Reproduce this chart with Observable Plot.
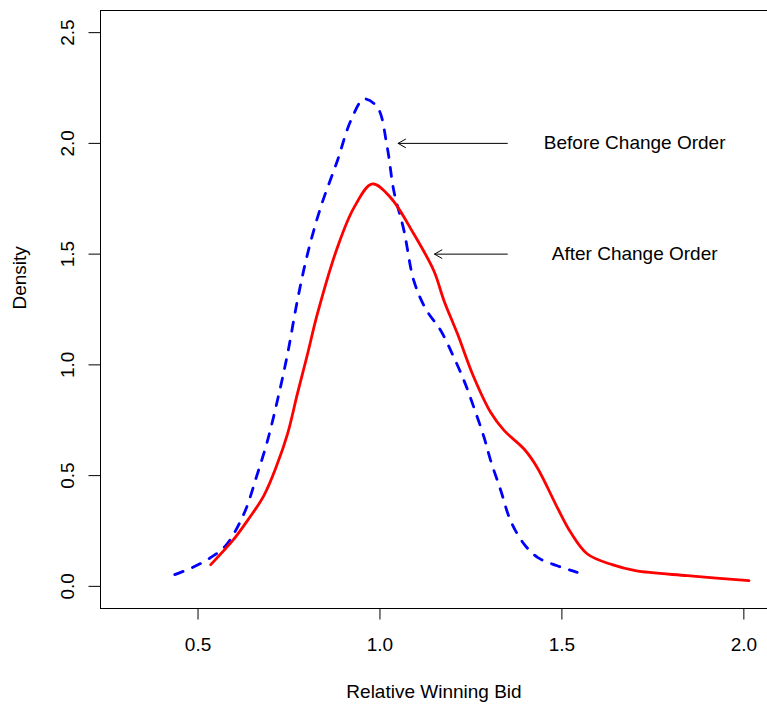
<!DOCTYPE html>
<html>
<head>
<meta charset="utf-8">
<script src="https://cdn.jsdelivr.net/npm/d3@7"></script>
<script src="https://cdn.jsdelivr.net/npm/@observablehq/plot@0.6"></script>
<style>
  html, body { margin: 0; padding: 0; background: #fff; }
  #chart { width: 767px; height: 707px; }
</style>
</head>
<body>
<div id="chart"></div>
<script>
// Density estimate "Before Change Order" (blue dashed)
const beforeX = [0.436, 0.486, 0.533, 0.576, 0.626, 0.663, 0.691, 0.718, 0.746, 0.773, 0.801, 0.837, 0.883, 0.920, 0.956, 0.993, 1.020, 1.038, 1.066, 1.093, 1.126, 1.167, 1.203, 1.231, 1.258, 1.286, 1.304, 1.332, 1.359, 1.396, 1.433, 1.487, 1.542];
const beforeY = [0.053, 0.086, 0.128, 0.184, 0.327, 0.507, 0.658, 0.838, 1.049, 1.290, 1.501, 1.711, 1.922, 2.103, 2.200, 2.163, 1.982, 1.786, 1.606, 1.380, 1.252, 1.155, 1.034, 0.929, 0.808, 0.673, 0.569, 0.433, 0.296, 0.191, 0.131, 0.093, 0.063];

// Density estimate "After Change Order" (red solid)
const afterX = [0.535, 0.595, 0.626, 0.681, 0.718, 0.746, 0.773, 0.801, 0.828, 0.883, 0.929, 0.979, 1.029, 1.093, 1.148, 1.176, 1.213, 1.258, 1.304, 1.341, 1.396, 1.432, 1.487, 1.524, 1.570, 1.638, 1.702, 1.845, 2.014];
const afterY = [0.098, 0.206, 0.274, 0.410, 0.553, 0.688, 0.869, 1.049, 1.230, 1.530, 1.711, 1.817, 1.756, 1.591, 1.425, 1.290, 1.140, 0.944, 0.786, 0.704, 0.620, 0.537, 0.357, 0.244, 0.146, 0.098, 0.071, 0.048, 0.026];

// Axes
const xDomain = [0.232, 2.065];
const yDomain = [-0.1, 2.6];
const xTicks = [0.5, 1.0, 1.5, 2.0];
const yTicks = [0.0, 0.5, 1.0, 1.5, 2.0, 2.5];
const xLabel = "Relative Winning Bid";
const yLabel = "Density";

// Annotations
const annText = ["Before Change Order", "After Change Order"];
const annTextX = [1.70, 1.70];
const annY = [2.0, 1.5];
const arrowFromX = [1.35, 1.35];
const arrowToX = [1.05, 1.15];

const before = beforeX.map((x, i) => ({x, y: beforeY[i]}));
const after = afterX.map((x, i) => ({x, y: afterY[i]}));
const annotations = annText.map((t, i) => ({text: t, tx: annTextX[i], y: annY[i], x1: arrowFromX[i], x2: arrowToX[i]}));

const FONT = "'Liberation Sans', Arial, Helvetica, sans-serif";
const FS = 19;

const chart = Plot.plot({
  width: 767,
  height: 707,
  marginLeft: 100,
  marginRight: 0,
  marginTop: 10,
  marginBottom: 99,
  style: {fontFamily: FONT, fontSize: FS + "px", background: "#fff", color: "#000"},
  x: {domain: xDomain, axis: null},
  y: {domain: yDomain, axis: null},
  marks: [
    // box (right side lies at the picture edge)
    Plot.ruleY(yDomain, {stroke: "#000", strokeWidth: 1}),
    Plot.ruleX([xDomain[0]], {stroke: "#000", strokeWidth: 1}),
    // axes
    Plot.axisX({ticks: xTicks, tickSize: 11.5, tickPadding: 17, tickFormat: d3.format(".1f"), fontSize: FS, label: null, stroke: "#000"}),
    Plot.axisY({ticks: yTicks, tickSize: 11.5, tickPadding: 15, tickRotate: -90, tickFormat: d3.format(".1f"), fontSize: FS, label: null, stroke: "#000"}),
    Plot.text([xLabel], {frameAnchor: "bottom", text: d => d, dy: 89, lineAnchor: "bottom", fontSize: FS, fill: "#000"}),
    Plot.text([yLabel], {frameAnchor: "left", text: d => d, rotate: -90, dx: -75, lineAnchor: "bottom", fontSize: FS, fill: "#000"}),
    // curves
    Plot.line(before, {x: "x", y: "y", stroke: "#0000ff", strokeWidth: 2.8, strokeDasharray: "9,10", curve: "catmull-rom"}),
    Plot.line(after, {x: "x", y: "y", stroke: "#ff0000", strokeWidth: 2.8, curve: "catmull-rom"}),
    // annotation arrows and text
    Plot.arrow(annotations, {x1: "x1", y1: "y", x2: "x2", y2: "y", stroke: "#000", strokeWidth: 1, headLength: 12.7, headAngle: 60}),
    Plot.text(annotations, {x: "tx", y: "y", text: "text", fontSize: FS, fill: "#000", lineAnchor: "middle"})
  ]
});
document.getElementById("chart").appendChild(chart);
</script>
</body>
</html>
